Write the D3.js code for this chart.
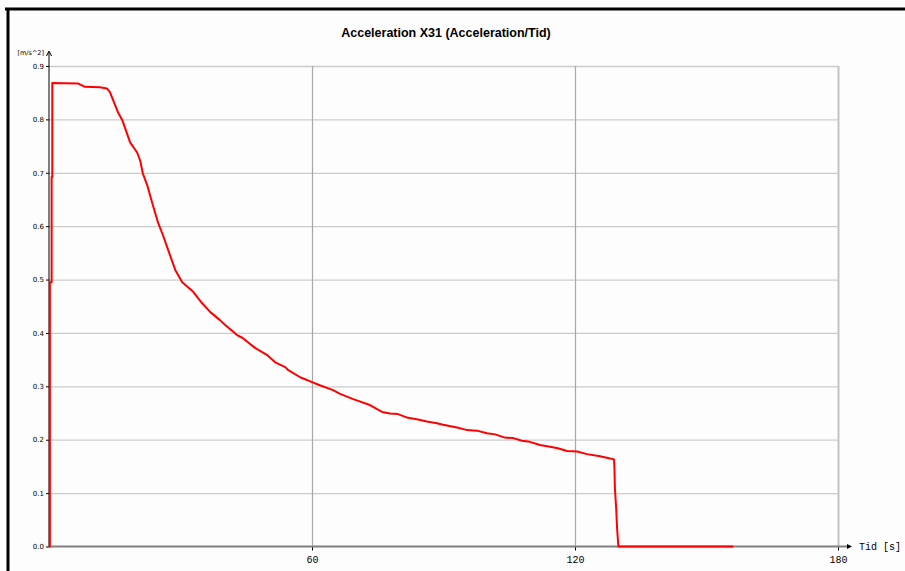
<!DOCTYPE html>
<html><head><meta charset="utf-8">
<script src="https://cdn.jsdelivr.net/npm/d3@7"></script>
<style>
html,body{margin:0;padding:0;background:#fdfdfd;}
svg{display:block;}
</style></head>
<body>
<svg id="chart" width="905" height="571"></svg>
<script>
// ---- data ----
const title = "Acceleration X31 (Acceleration/Tid)";
const yUnit = "[m/s^2]";
const xLabel = "Tid [s]";
const yTicks = [0.0,0.1,0.2,0.3,0.4,0.5,0.6,0.7,0.8,0.9];
const xTicks = [60,120,180];
const timeS = [0,0.2,0.2,0.6,0.6,0.75,0.75,6.7,8.2,11.6,13.2,13.9,15.7,16.7,18.5,20.1,20.8,21.4,22.4,23.7,24.9,26.0,27.2,28.8,30.4,32.9,34.9,36.8,39.0,40.2,42.9,44.1,47.0,49.7,51.6,53.9,54.5,57.3,60.0,61.8,64.8,66.4,69.4,73.2,76.0,77.8,79.6,81.9,84.2,86.2,88.5,89.9,93.1,95.4,97.6,99.9,101.8,104.0,105.9,107.9,109.7,112.0,114.3,116.1,118.2,120.5,122.7,125.7,128.0,128.9,129.0,129.1,129.4,129.6,129.9,156.1];
const accel = [0,0,0.495,0.495,0.692,0.692,0.868,0.867,0.861,0.860,0.858,0.851,0.814,0.799,0.757,0.738,0.723,0.699,0.677,0.639,0.606,0.583,0.555,0.518,0.495,0.477,0.456,0.439,0.424,0.415,0.396,0.391,0.372,0.359,0.345,0.336,0.331,0.317,0.308,0.302,0.293,0.286,0.276,0.265,0.252,0.249,0.248,0.241,0.238,0.234,0.231,0.228,0.223,0.218,0.217,0.212,0.210,0.204,0.203,0.198,0.196,0.190,0.187,0.184,0.179,0.178,0.173,0.169,0.165,0.163,0.146,0.109,0.071,0.034,0,0];

// ---- drawing ----
const svg = d3.select("#chart");
const W = 905, H = 571;
svg.append("rect").attr("width",W).attr("height",H).attr("fill","#fdfdfd");

const x = d3.scaleLinear().domain([0,180]).range([49,838]);
const y = d3.scaleLinear().domain([0,0.9]).range([546.5,66]);

// outer black frame lines
svg.append("line").attr("x1",5).attr("x2",W).attr("y1",9).attr("y2",9).attr("stroke","#000").attr("stroke-width",3);
svg.append("line").attr("x1",8).attr("x2",8).attr("y1",8).attr("y2",H).attr("stroke","#000").attr("stroke-width",3);

// title
svg.append("text").attr("x",446).attr("y",37).attr("text-anchor","middle")
  .attr("font-family","Liberation Sans, Arial, sans-serif").attr("font-weight","bold")
  .attr("font-size",12.5).attr("fill","#000").text(title);

// horizontal grid
const gy = svg.append("g").attr("transform",`translate(${x(0)},0)`)
  .call(d3.axisLeft(y).tickValues(yTicks.filter(d=>d>0)).tickSize(-(x(180)-x(0))).tickFormat(""));
gy.select(".domain").remove();
gy.selectAll(".tick line").attr("stroke","#cccccc").attr("stroke-width",1.3);

// vertical grid
const gx = svg.append("g").attr("transform",`translate(0,${y(0)})`)
  .call(d3.axisBottom(x).tickValues(xTicks).tickSize(-(y(0)-y(0.9))).tickFormat(""));
gx.select(".domain").remove();
gx.selectAll(".tick line").attr("stroke","#a8a8a8").attr("stroke-width",1.2);
gx.selectAll(".tick").filter(d=>d===180).select("line").attr("stroke","#c4c4c4").attr("stroke-width",2);

// y axis
const ya = svg.append("g").attr("transform",`translate(${x(0)},0)`)
  .call(d3.axisLeft(y).tickValues(yTicks).tickSize(3).tickFormat(d3.format(".1f")));
ya.select(".domain").remove();
ya.selectAll(".tick line").attr("stroke","#000");
ya.selectAll(".tick text").attr("font-family","DejaVu Sans, Verdana, sans-serif").attr("font-size",7).attr("fill","#000").attr("dx",1);
svg.append("line").attr("x1",x(0)).attr("x2",x(0)).attr("y1",y(0)).attr("y2",52).attr("stroke","#000").attr("stroke-width",1);
svg.append("path").attr("d",`M${x(0)-2.5},56 L${x(0)},51 L${x(0)+2.5},56`).attr("fill","none").attr("stroke","#000").attr("stroke-width",1);
svg.append("text").attr("x",44).attr("y",55).attr("text-anchor","end")
  .attr("font-family","DejaVu Sans, Verdana, sans-serif").attr("font-size",6.5).attr("fill","#000").text(yUnit);

// x axis
const xa = svg.append("g").attr("transform",`translate(0,${y(0)})`)
  .call(d3.axisBottom(x).tickValues(xTicks).tickSize(4).tickFormat(d3.format("d")));
xa.select(".domain").remove();
xa.selectAll(".tick line").attr("stroke","#000");
xa.selectAll(".tick text").attr("font-family","Liberation Mono, Courier New, monospace").attr("font-size",10).attr("fill","#000").attr("dy","0.9em");
svg.append("line").attr("x1",x(0)).attr("x2",848).attr("y1",y(0)).attr("y2",y(0)).attr("stroke","#808080").attr("stroke-width",2);
svg.append("path").attr("d",`M847,${y(0)-2.5} L852,${y(0)} L847,${y(0)+2.5} Z`).attr("fill","#000");
svg.append("text").attr("x",859).attr("y",y(0)+3.5)
  .attr("font-family","Liberation Mono, Courier New, monospace").attr("font-size",10).attr("fill","#000").text(xLabel);

// data line
const pts = timeS.map((t,i)=>[t,accel[i]]);
svg.append("path").datum(pts)
  .attr("d",d3.line().x(d=>x(d[0])).y(d=>y(d[1])))
  .attr("fill","none").attr("stroke","#ff0000").attr("stroke-width",2).attr("stroke-linejoin","round");
</script>
</body></html>
